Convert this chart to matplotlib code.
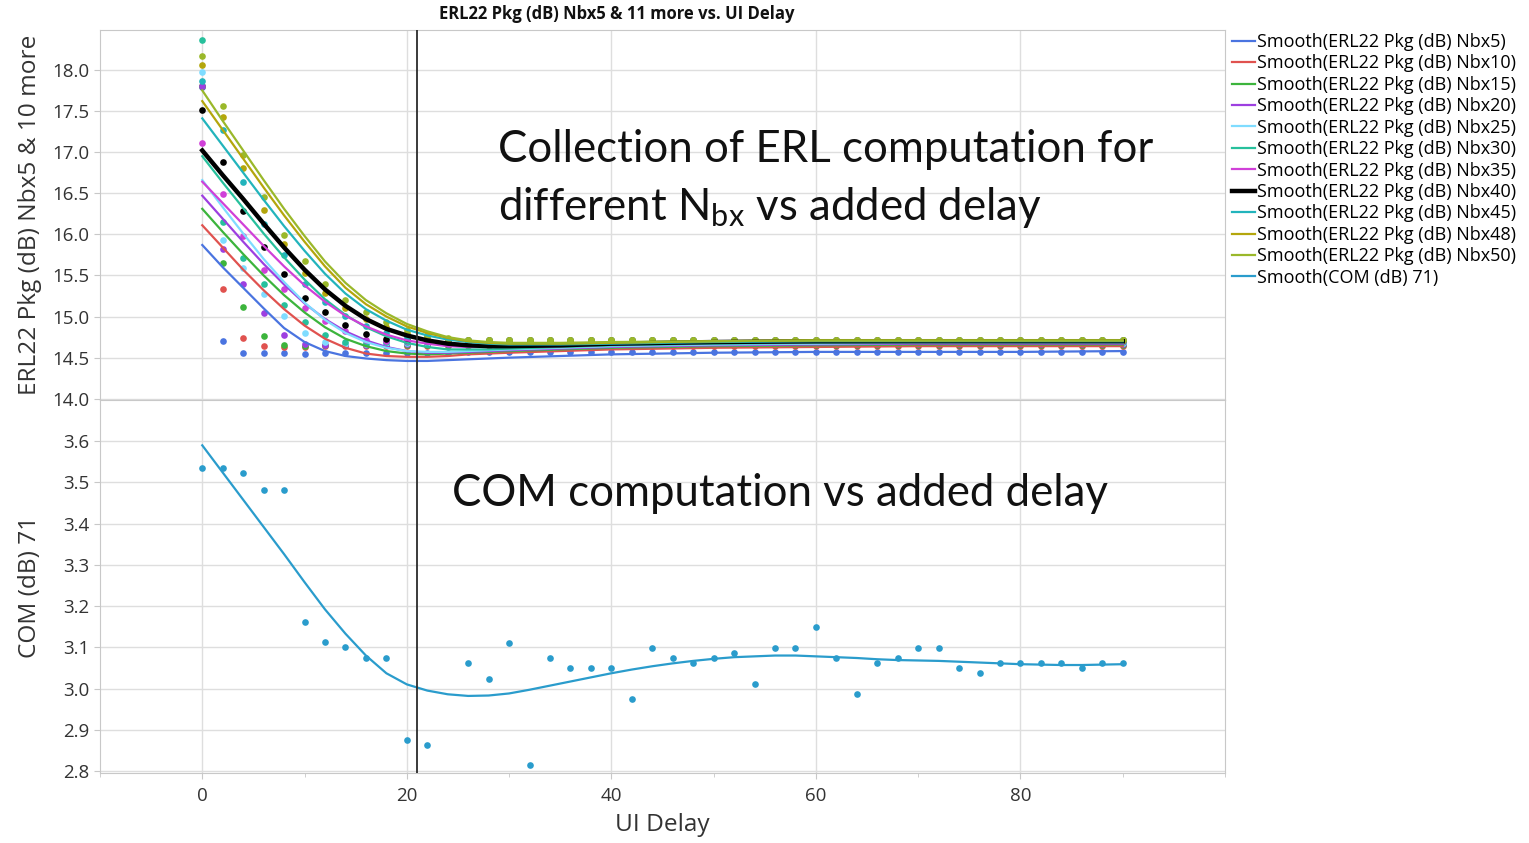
import numpy as np
import matplotlib
matplotlib.use('Agg')
import matplotlib.pyplot as plt
from matplotlib.ticker import MultipleLocator, FormatStrFormatter

plt.rcParams['font.family'] = ['Open Sans', 'DejaVu Sans']

# UI delay for the measured points (also where the COM smoother is sampled)
delay = list(range(0, 92, 2))
# UI delay where the smoothed ERL curves are sampled
delay_smooth = [0, 2, 4, 6, 8, 10, 12, 14, 16, 18, 20, 22, 24, 26, 28, 30, 35, 40, 50, 60, 70, 80, 90]

names = ['Nbx5', 'Nbx10', 'Nbx15', 'Nbx20', 'Nbx25', 'Nbx30', 'Nbx35', 'Nbx40', 'Nbx45', 'Nbx48', 'Nbx50']
colors = ['#4a74e0', '#e0524f', '#3cb43c', '#9d3fe0', '#7fdcff', '#27c09c',
          '#d040d8', '#000000', '#22b4bc', '#b4a60c', '#9ab82a']

# ERL points, delay 0..24, after that the value stays flat (tail level)
erl_head = {
    'Nbx5':  [17.79, 14.70, 14.56, 14.56, 14.56, 14.54, 14.56, 14.56, 14.56, 14.56, 14.56, 14.56, 14.56],
    'Nbx10': [17.81, 15.33, 14.74, 14.64, 14.63, 14.63, 14.64, 14.64, 14.64, 14.64, 14.64, 14.64, 14.64],
    'Nbx15': [17.80, 15.65, 15.12, 14.76, 14.65, 14.64, 14.65, 14.65, 14.65, 14.66, 14.66, 14.66, 14.66],
    'Nbx20': [17.80, 15.82, 15.40, 15.04, 14.78, 14.67, 14.66, 14.66, 14.66, 14.67, 14.67, 14.67, 14.67],
    'Nbx25': [17.98, 15.93, 15.59, 15.27, 15.01, 14.80, 14.69, 14.67, 14.67, 14.68, 14.68, 14.68, 14.68],
    'Nbx30': [18.36, 16.15, 15.71, 15.40, 15.14, 14.93, 14.77, 14.69, 14.68, 14.69, 14.69, 14.69, 14.69],
    'Nbx35': [17.11, 16.49, 15.98, 15.57, 15.33, 15.11, 14.95, 14.83, 14.72, 14.70, 14.70, 14.70, 14.70],
    'Nbx40': [17.51, 16.88, 16.28, 15.84, 15.52, 15.23, 15.05, 14.90, 14.79, 14.73, 14.71, 14.71, 14.71],
    'Nbx45': [17.87, 17.27, 16.64, 16.12, 15.75, 15.40, 15.18, 15.01, 14.89, 14.80, 14.75, 14.72, 14.72],
    'Nbx48': [18.06, 17.43, 16.81, 16.30, 15.88, 15.53, 15.29, 15.11, 14.97, 14.87, 14.80, 14.75, 14.73],
    'Nbx50': [18.17, 17.56, 16.96, 16.46, 15.99, 15.67, 15.39, 15.20, 15.05, 14.93, 14.84, 14.78, 14.74],
}
erl_tail = {'Nbx5': 14.57, 'Nbx10': 14.64, 'Nbx15': 14.66, 'Nbx20': 14.67, 'Nbx25': 14.68, 'Nbx30': 14.69,
            'Nbx35': 14.70, 'Nbx40': 14.71, 'Nbx45': 14.72, 'Nbx48': 14.72, 'Nbx50': 14.72}

# smoothed ERL curves (JMP smoother), on delay_smooth
erl_smooth = {
    'Nbx5':  [15.87, 15.60, 15.35, 15.10, 14.86, 14.69, 14.58, 14.52, 14.49, 14.47, 14.46, 14.46, 14.47, 14.48, 14.49, 14.50, 14.52, 14.54, 14.56, 14.57, 14.57, 14.57, 14.58],
    'Nbx10': [16.11, 15.84, 15.57, 15.32, 15.09, 14.89, 14.73, 14.62, 14.55, 14.52, 14.51, 14.51, 14.52, 14.54, 14.55, 14.56, 14.58, 14.60, 14.62, 14.63, 14.64, 14.64, 14.64],
    'Nbx15': [16.31, 16.03, 15.76, 15.50, 15.26, 15.05, 14.87, 14.73, 14.64, 14.58, 14.55, 14.54, 14.55, 14.56, 14.57, 14.58, 14.60, 14.62, 14.64, 14.65, 14.66, 14.66, 14.66],
    'Nbx20': [16.47, 16.19, 15.91, 15.64, 15.39, 15.16, 14.97, 14.82, 14.71, 14.63, 14.58, 14.56, 14.56, 14.57, 14.58, 14.59, 14.61, 14.63, 14.65, 14.66, 14.67, 14.67, 14.67],
    'Nbx25': [16.66, 16.33, 16.01, 15.70, 15.42, 15.17, 14.96, 14.80, 14.69, 14.62, 14.58, 14.57, 14.57, 14.58, 14.59, 14.60, 14.62, 14.64, 14.66, 14.67, 14.68, 14.68, 14.68],
    'Nbx30': [16.95, 16.63, 16.32, 16.01, 15.72, 15.45, 15.21, 15.02, 14.87, 14.76, 14.68, 14.63, 14.60, 14.60, 14.60, 14.61, 14.63, 14.65, 14.67, 14.68, 14.69, 14.69, 14.69],
    'Nbx35': [16.64, 16.38, 16.12, 15.86, 15.61, 15.38, 15.18, 15.01, 14.88, 14.78, 14.71, 14.67, 14.64, 14.63, 14.63, 14.63, 14.64, 14.66, 14.68, 14.69, 14.69, 14.69, 14.69],
    'Nbx40': [17.02, 16.72, 16.43, 16.13, 15.84, 15.57, 15.33, 15.13, 14.97, 14.85, 14.77, 14.71, 14.67, 14.65, 14.64, 14.64, 14.65, 14.67, 14.69, 14.70, 14.70, 14.70, 14.70],
    'Nbx45': [17.41, 17.08, 16.75, 16.42, 16.10, 15.80, 15.52, 15.28, 15.09, 14.95, 14.84, 14.77, 14.72, 14.69, 14.67, 14.66, 14.66, 14.67, 14.69, 14.70, 14.70, 14.70, 14.70],
    'Nbx48': [17.62, 17.27, 16.92, 16.57, 16.23, 15.91, 15.61, 15.35, 15.15, 15.00, 14.88, 14.80, 14.74, 14.70, 14.68, 14.67, 14.67, 14.68, 14.70, 14.71, 14.71, 14.71, 14.71],
    'Nbx50': [17.75, 17.38, 17.02, 16.66, 16.31, 15.98, 15.67, 15.41, 15.20, 15.04, 14.91, 14.82, 14.75, 14.71, 14.69, 14.68, 14.68, 14.69, 14.70, 14.71, 14.71, 14.71, 14.71],
}

# COM points (no value at delay 24)
com = [3.534, 3.534, 3.522, 3.482, 3.482, 3.162, 3.112, 3.100, 3.073, 3.073,
       2.876, 2.864, None, 3.062, 3.024, 3.111, 2.815, 3.074, 3.050, 3.050,
       3.050, 2.975, 3.099, 3.074, 3.062, 3.074, 3.087, 3.012, 3.099, 3.099,
       3.149, 3.074, 2.987, 3.062, 3.074, 3.099, 3.099, 3.050, 3.037, 3.062,
       3.062, 3.062, 3.062, 3.050, 3.062, 3.062]
com_smooth = [3.590, 3.524, 3.458, 3.392, 3.326, 3.258, 3.192, 3.133, 3.080, 3.037,
              3.010, 2.995, 2.986, 2.982, 2.983, 2.988, 2.997, 3.007, 3.017, 3.027,
              3.037, 3.046, 3.054, 3.061, 3.067, 3.072, 3.076, 3.078, 3.080, 3.080,
              3.078, 3.076, 3.074, 3.071, 3.069, 3.068, 3.067, 3.065, 3.063, 3.061,
              3.059, 3.058, 3.057, 3.057, 3.058, 3.059]
com_color = '#2a9ccc'

grid_c = '#dedede'
spine_c = '#c8c8c8'
text_c = '#333333'

fig = plt.figure(figsize=(15.29, 8.43), dpi=100)
ax1 = fig.add_axes([100 / 1529, 1 - 400 / 843, 1125 / 1529, 370 / 843])
ax2 = fig.add_axes([100 / 1529, 1 - 773 / 843, 1125 / 1529, 373 / 843], sharex=ax1)

for n, c in zip(names, colors):
    y = erl_head[n] + [erl_tail[n]] * (len(delay) - len(erl_head[n]))
    ax1.plot(delay, y, 'o', color=c, ms=4.8, mec='none', zorder=3)
handles = []
for n, c in zip(names, colors):
    lw = 3.2 if n == 'Nbx40' else 1.6
    h, = ax1.plot(delay_smooth, erl_smooth[n], '-', color=c, lw=lw, zorder=4,
                  label='Smooth(ERL22 Pkg (dB) %s)' % n)
    handles.append(h)

com_arr = np.array([np.nan if v is None else v for v in com])
ax2.plot(delay, com_arr, 'o', color=com_color, ms=4.8, mec='none', zorder=3)
h, = ax2.plot(delay, com_smooth, '-', color=com_color, lw=1.6, zorder=4,
              label='Smooth(COM (dB) 71)')
handles.append(h)

for ax in (ax1, ax2):
    ax.axvline(21, color='#2b2b2b', lw=1.3, zorder=5)
    ax.grid(True, color=grid_c, lw=1.0)
    ax.set_axisbelow(True)
    for s in ax.spines.values():
        s.set_color(spine_c)
    ax.tick_params(colors=spine_c, labelcolor=text_c, labelsize=13.5, length=4)
    ax.tick_params(which='minor', colors=spine_c, length=3)

ax1.set_xlim(-10, 100)
ax1.set_ylim(13.985, 18.485)
ax1.set_yticks(np.arange(14.0, 18.01, 0.5))
ax1.yaxis.set_major_formatter(FormatStrFormatter('%.1f'))
ax1.tick_params(axis='x', which='both', bottom=False, labelbottom=False)

ax2.set_ylim(2.795, 3.70)
ax2.set_yticks(np.arange(2.8, 3.61, 0.1))
ax2.yaxis.set_major_formatter(FormatStrFormatter('%.1f'))
ax2.set_xticks([0, 20, 40, 60, 80])
ax2.xaxis.set_minor_locator(MultipleLocator(10))
ax2.tick_params(axis='x', pad=6)

ax1.set_ylabel('ERL22 Pkg (dB) Nbx5 & 10 more', fontsize=17.6, color=text_c)
ax2.set_ylabel('COM (dB) 71', fontsize=17.6, color=text_c)
ax1.yaxis.set_label_coords(-58 / 1125, 0.5)
ax2.yaxis.set_label_coords(-58 / 1125, 0.5)
ax2.set_xlabel('UI Delay', fontsize=17.6, color=text_c, labelpad=6)

fig.text(617 / 1529, 1 - 14 / 843, 'ERL22 Pkg (dB) Nbx5 & 11 more vs. UI Delay',
         ha='center', va='center', fontsize=12, fontweight='bold', color='#111111')

fig.text(498 / 1529, 1 - 150 / 843, 'Collection of ERL computation for',
         fontsize=31.5, family='Lato', color='#111111', va='center', ha='left')
fig.text(498 / 1529, 1 - 207 / 843, 'different $\\mathregular{N_{bx}}$ vs added delay',
         fontsize=31.5, family='Lato', color='#111111', va='center', ha='left')
fig.text(452 / 1529, 1 - 494 / 843, 'COM computation vs added delay',
         fontsize=31.5, family='Lato', color='#111111', va='center', ha='left')

fig.legend(handles=handles, loc='upper left', bbox_to_anchor=(1232 / 1529, 1 - 33 / 843),
           frameon=False, fontsize=13, handlelength=1.3, handletextpad=0.1,
           labelspacing=0.19, borderpad=0, borderaxespad=0)

fig.savefig('out.png', dpi=100)
